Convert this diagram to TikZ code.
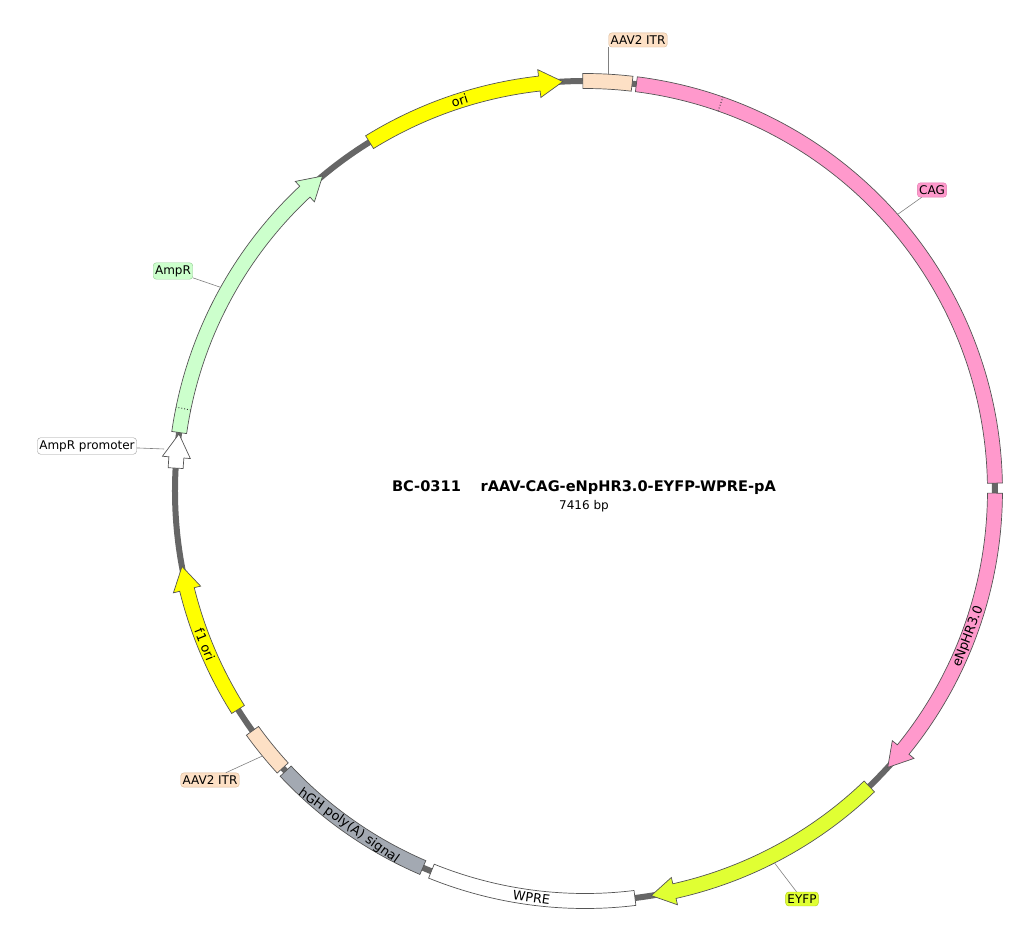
\documentclass[tikz,border=0pt]{standalone}
\usepackage{fontspec}
\setmainfont{DejaVu Sans}
\usetikzlibrary{positioning}
\definecolor{bbone}{HTML}{666666}
\definecolor{outl}{HTML}{555555}
\definecolor{itr}{HTML}{FDE0C5}
\definecolor{itrdk}{HTML}{D9B693}
\definecolor{cag}{HTML}{FF99CC}
\definecolor{cagdk}{HTML}{E07AAE}
\definecolor{eyfp}{HTML}{E0FF33}
\definecolor{eyfpdk}{HTML}{B2CC1A}
\definecolor{yel}{HTML}{FFFF00}
\definecolor{amp}{HTML}{CCFFCC}
\definecolor{ampdk}{HTML}{8FCC8F}
\definecolor{hgh}{HTML}{A3A9B2}
\definecolor{whitedk}{HTML}{999999}
\newcommand{\lblfont}{\fontsize{12}{14}\selectfont}
\tikzset{
        feat/.style={draw=outl, line width=0.7pt},
        lbl/.style={draw=#1dk, fill=#1, rounded corners=3pt, inner xsep=1.8pt, inner ysep=2.6pt, font=\lblfont},
        lead/.style={draw=gray, line width=0.6pt},
        ftxt/.style={inner sep=0pt, font=\fontsize{12.8}{14}\selectfont}
}
\begin{document}
\begin{tikzpicture}[x=1pt,y=1pt]
        \useasboundingbox (-585,-443) rectangle (428,491);
        % backbone
        \draw[bbone, line width=6pt] (0,0) circle (410);
        % plain boxes
        \foreach \a/\b/\c in {-0.3/6.6/itr, 7.2/88.9/cag, 173/202/white, 203.3/226.9/hgh, 227.5/234.2/itr} {
                \filldraw[feat, fill=\c] ({90-\a}:417.5) arc[start angle={90-\a}, end angle={90-\b}, radius=417.5]
                        -- ({90-\b}:402.5) arc[start angle={90-\b}, end angle={90-\a}, radius=402.5] -- cycle;
            }
        % arrows, clockwise
        \foreach \a/\b/\c in {90.3/132.4/cag, 136.1/170.7/eyfp, 237.8/259.4/yel, 273.2/278.0/white, 278.2/320.2/amp, 328.3/356.9/yel} {
                \filldraw[feat, fill=\c] ({90-\a}:417.5) arc[start angle={90-\a}, end angle={93.3-\b}, radius=417.5]
                        -- ({93.3-\b}:424) -- ({90-\b}:410) -- ({93.3-\b}:396) -- ({93.3-\b}:402.5)
                        arc[start angle={93.3-\b}, end angle={90-\a}, radius=402.5] -- cycle;
            }
        % segment joins
        \foreach \p in {19.3, 281.6} {
                \draw[black!80, dotted, line width=0.9pt] ({90-\p}:402.5) -- ({90-\p}:417.5);
            }
        % names on the features
        \node[ftxt, rotate=18] (tori) at ({90-342.2}:410) {ori};
        \node[ftxt, rotate=69.2] (tnphr) at ({90-110.8}:410) {eNpHR3.0};
        \node[ftxt, rotate=-7.5] (twpre) at ({90-187.5}:410) {WPRE};
        \node[ftxt, rotate=-35.2] (thgh) at ({90-215.2}:410) {hGH poly(A) signal};
        \node[ftxt, rotate=-68] (tfone) at ({90-248}:410) {f1 ori};
        % callouts
        \coordinate (citra) at ({90-3.2}:417.5);
        \coordinate (ccag) at ({90-48.5}:417.5);
        \coordinate (ceyfp) at ({90-153}:417.5);
        \coordinate (citrb) at ({90-230.6}:417.5);
        \coordinate (cprom) at ({90-275.7}:423);
        \coordinate (camp) at ({90-299.2}:417.5);
        \node[lbl=itr] (litra) at (53,451) {AAV2 ITR};
        \node[lbl=cag] (lcag) at (347,301) {CAG};
        \node[lbl=eyfp] (leyfp) at (217,-408) {EYFP};
        \node[lbl=itr] (litrb) at (-375,-289) {AAV2 ITR};
        \node[lbl=white] (lprom) at (-498,45) {AmpR promoter};
        \node[lbl=amp] (lamp) at (-412,220) {AmpR};
        \draw[lead] (citra) -- (citra |- litra.south);
        \draw[lead] (ccag) -- (lcag);
        \draw[lead] (ceyfp) -- (leyfp);
        \draw[lead] (citrb) -- (litrb);
        \draw[lead] (cprom) -- (lprom);
        \draw[lead] (camp) -- (lamp);
        % title
        \node[font=\fontsize{14.6}{16}\selectfont\bfseries] (title) at (-1,3) {BC-0311\quad\ rAAV-CAG-eNpHR3.0-EYFP-WPRE-pA};
        \node[font=\fontsize{12}{13}\selectfont, below=-1.5pt of title] (size) {7416 bp};
\end{tikzpicture}
\end{document}
